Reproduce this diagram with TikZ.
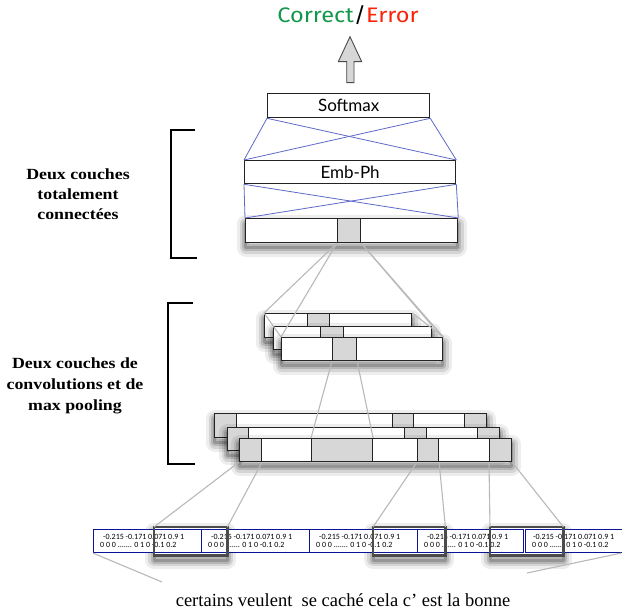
\documentclass[tikz,border=0pt]{standalone}
\usepackage{fontspec}
\setmainfont{Liberation Serif}
\newfontfamily\labfont{Liberation Serif}[FakeStretch=1.15]
\newfontfamily\boxfont{Lato}
\newfontfamily\titlefont{Fira Sans}[FakeStretch=1.12]
\newfontfamily\valfont{Carlito}
\definecolor{cgreen}{RGB}{20,150,75}
\definecolor{cred}{RGB}{250,35,10}
\definecolor{boxline}{RGB}{35,35,35}
\definecolor{cellgray}{RGB}{215,215,215}
\definecolor{fcblue}{RGB}{95,105,200}
\definecolor{glinec}{RGB}{185,185,185}
\definecolor{valblue}{RGB}{10,20,150}
\definecolor{winline}{RGB}{75,75,75}
\definecolor{arrowfill}{RGB}{215,215,215}
\begin{document}
\begin{tikzpicture}[x=1pt,y=-1pt,
  shad/.style={
    preaction={fill=none,draw=black,draw opacity=0.07,line width=18pt,line join=round,transform canvas={yshift=-5pt}},
    preaction={fill=none,draw=black,draw opacity=0.10,line width=12pt,line join=round,transform canvas={yshift=-5pt}},
    preaction={fill=none,draw=black,draw opacity=0.14,line width=7pt,line join=round,transform canvas={yshift=-5pt}},
    preaction={fill=none,draw=black,draw opacity=0.18,line width=3pt,line join=round,transform canvas={yshift=-5pt}}},
  box/.style={draw=boxline,line width=1.3pt,fill=white,inner sep=0pt,anchor=north west},
  cell/.style={draw=boxline,line width=1.1pt,fill=cellgray,inner sep=0pt,anchor=north west},
  fcline/.style={draw=fcblue,line width=0.8pt},
  gline/.style={draw=glinec,line width=1.1pt},
  valbox/.style={draw=valblue,line width=1.1pt,fill=white,inner sep=0pt,anchor=north west,minimum height=23pt},
  vals/.style={anchor=west,align=left,inner sep=0pt,font=\valfont\fontsize{8}{8.5}\selectfont},
  winshad/.style={fill=white,draw=none,inner sep=0pt,anchor=north west,minimum height=28pt,shad},
  winframe/.style={draw=winline,line width=2.4pt},
  lab/.style={align=center,font=\labfont\bfseries\fontsize{15.5}{20}\selectfont},
  brk/.style={draw=black,line width=1.3pt},
]
\useasboundingbox[fill=white] (0,0) rectangle (622,615);

% title and arrow
\node[font=\titlefont\fontsize{21}{24}\selectfont] (title) at (348,15)
  {\textcolor{cgreen}{Correct}/\textcolor{cred}{Error}};
\draw[draw=winline,fill=arrowfill,line width=0.9pt]
  (346.7,82.7) -- (346.7,61.7) -- (338.3,61.7) -- (350,36.7) -- (361.7,61.7)
  -- (354,61.7) -- (354,82.7) -- cycle;

% fully connected layers
\node[box,minimum width=162pt,minimum height=24pt,font=\boxfont\fontsize{17}{18}\selectfont] (soft) at (267,93) {Softmax};
\node[box,minimum width=211pt,minimum height=23pt,font=\boxfont\fontsize{17}{18}\selectfont] (emb) at (244,160) {Emb-Ph};
\node[box,shad,minimum width=212pt,minimum height=24pt] (fc) at (245,218) {};
\node[cell,minimum width=23pt,minimum height=24pt] (fcg) at (337,218) {};

\draw[fcline] (soft.south west) -- (emb.north west);
\draw[fcline] (soft.south east) -- (emb.north east);
\draw[fcline] (soft.south west) -- (emb.north east);
\draw[fcline] (soft.south east) -- (emb.north west);
\draw[fcline] (emb.south west) -- (fc.north west);
\draw[fcline] (emb.south east) -- (fc.north east);
\draw[fcline] (emb.south west) -- (fc.north east);
\draw[fcline] (emb.south east) -- (fc.north west);

% second convolution / pooling stack
\node[box,shad,minimum width=147pt,minimum height=24pt] (ca) at (264,313) {};
\node[cell,minimum width=22pt,minimum height=24pt] (cag) at (307,313) {};
\node[box,shad,minimum width=158pt,minimum height=23pt] (cb) at (273,326) {};
\node[cell,minimum width=23pt,minimum height=23pt] (cbg) at (320,326) {};
\node[box,shad,minimum width=161pt,minimum height=23pt] (cc) at (281,337) {};
\node[cell,minimum width=24pt,minimum height=23pt] (ccg) at (332,337) {};

% first convolution stack
\node[box,shad,minimum width=272pt,minimum height=24pt] (cd) at (214,413) {};
\node[cell,minimum width=22pt,minimum height=24pt] (cdg1) at (214,413) {};
\node[cell,minimum width=21pt,minimum height=24pt] (cdg2) at (392,413) {};
\node[cell,minimum width=22pt,minimum height=24pt] (cdg3) at (464,413) {};
\node[box,shad,minimum width=272pt,minimum height=23pt] (ce) at (227,427) {};
\node[cell,minimum width=21pt,minimum height=23pt] (ceg1) at (227,427) {};
\node[cell,minimum width=22pt,minimum height=23pt] (ceg2) at (404,427) {};
\node[cell,minimum width=22pt,minimum height=23pt] (ceg3) at (477,427) {};
\node[box,shad,minimum width=272pt,minimum height=23pt] (cf) at (239,438) {};
\node[cell,minimum width=22pt,minimum height=23pt] (cfg1) at (239,438) {};
\node[cell,minimum width=61pt,minimum height=23pt] (cfg2) at (311,438) {};
\node[cell,minimum width=21pt,minimum height=23pt] (cfg3) at (417,438) {};
\node[cell,minimum width=22pt,minimum height=23pt] (cfg4) at (489,438) {};

% input windows (shadows first)
\node[winshad,minimum width=73pt] (w1) at (154,527) {};
\node[winshad,minimum width=72pt] (w2) at (373,527) {};
\node[winshad,minimum width=73pt] (w3) at (490,527) {};

% input vectors
\node[valbox,minimum width=108pt] (b1) at (93,529) {};
\node[valbox,minimum width=108pt] (b2) at (201,529) {};
\node[valbox,minimum width=108pt] (b3) at (309,529) {};
\node[valbox,minimum width=106pt] (b4) at (417,529) {};
\node[valbox,minimum width=100pt] (b5) at (525,529) {};
\node[vals] (t1) at ([xshift=7pt]b1.west) {\hspace{3pt}-0.215 -0.171 0.071 0.9 1\\0 0 0 ....... 0 1 0 -0.1 0.2};
\node[vals] (t2) at ([xshift=7pt]b2.west) {\hspace{3pt}-0.215 -0.171 0.071 0.9 1\\0 0 0 ....... 0 1 0 -0.1 0.2};
\node[vals] (t3) at ([xshift=7pt]b3.west) {\hspace{3pt}-0.215 -0.171 0.071 0.9 1\\0 0 0 ....... 0 1 0 -0.1 0.2};
\node[vals] (t4) at ([xshift=7pt]b4.west) {\hspace{3pt}-0.215 -0.171 0.071 0.9 1\\0 0 0 ....... 0 1 0 -0.1 0.2};
\node[vals] (t5) at ([xshift=7pt]b5.west) {\hspace{1pt}-0.215 -0.171 0.071 0.9 1\\0 0 0 ....... 0 1 0 -0.1 0.2};

\draw[winframe] (w1.north west) rectangle (w1.south east);
\draw[winframe] (w2.north west) rectangle (w2.south east);
\draw[winframe] (w3.north west) rectangle (w3.south east);

% connectors between layers
\draw[gline] (fcg.south west) -- (ca.north west);
\draw[gline] (fcg.south west) -- (cc.north west);
\draw[gline] (fcg.south east) -- (cb.north east);
\draw[gline] (fcg.south east) -- (cc.north east);
\draw[gline] (ca.north west) -- (cc.north west);
\draw[gline] (ca.north east) -- (cc.north east);
\draw[gline] (ccg.south west) -- (cfg2.north west);
\draw[gline] (ccg.south east) -- (cfg2.north east);
\draw[gline] (cfg1.south west) -- (w1.north west);
\draw[gline] (cfg1.south east) -- (w1.north east);
\draw[gline] (cfg3.south west) -- (w2.north west);
\draw[gline] (cfg3.south east) -- (w2.north east);
\draw[gline] (cfg4.south west) -- (w3.north west);
\draw[gline] (cfg4.south east) -- (w3.north east);

% sentence
\node[font=\fontsize{18.5}{20}\selectfont] (sent) at (343,600) {certains veulent\ \ se caché cela c' est la bonne};
\coordinate (sl) at (162,582);
\coordinate (sr) at (527,573);
\draw[gline] (b1.south west) -- (sl);
\draw[gline] ([xshift=-5pt]b5.south east) -- (sr);

% brackets and labels
\draw[brk] (195,130) -- (171,130) -- (171,258) -- (197,258);
\draw[brk] (193,303) -- (168,303) -- (168,464) -- (195,464);
\node[lab] (lab1) at (78,194) {Deux couches\\totalement\\connectées};
\node[lab,font=\labfont\bfseries\fontsize{15.5}{21}\selectfont] (lab2) at (75,386) {Deux couches de\\convolutions et de\\max pooling};
\end{tikzpicture}
\end{document}
